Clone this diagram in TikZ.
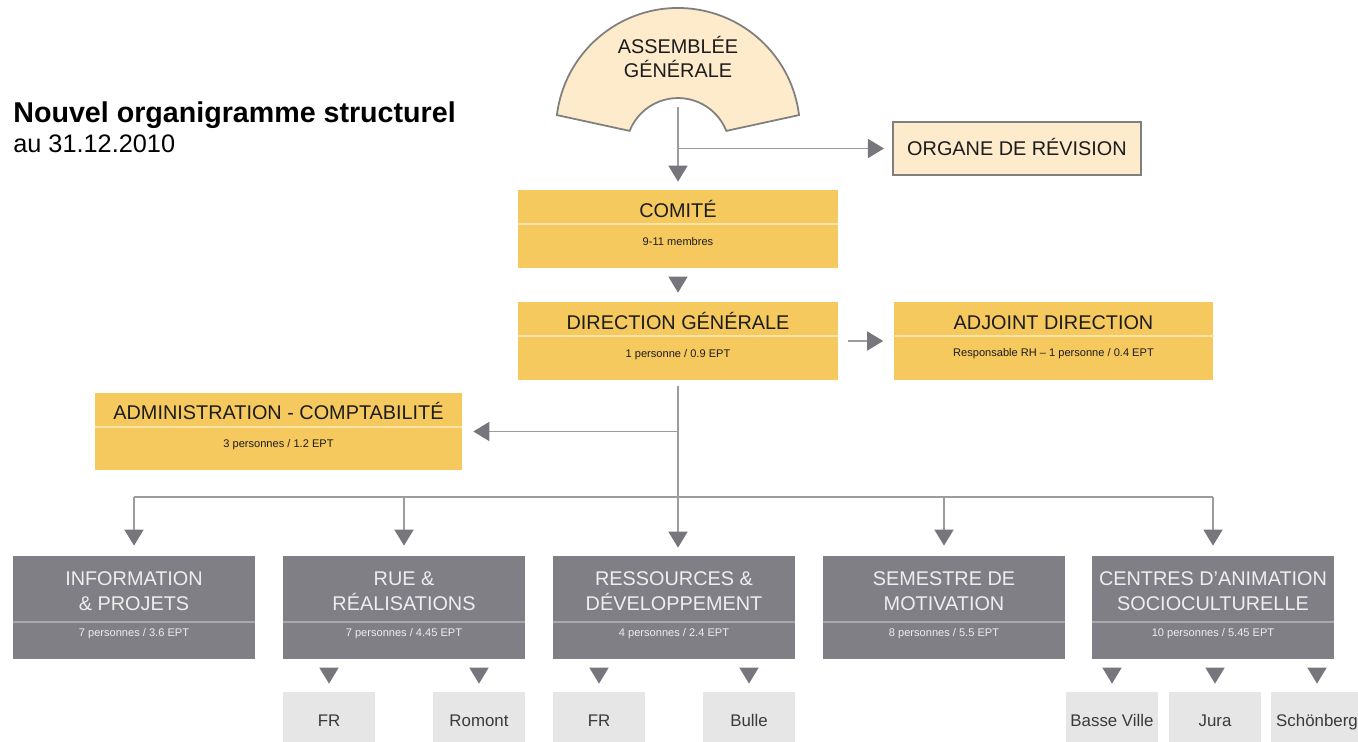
\documentclass[tikz,border=0pt]{standalone}
\usepackage{fontspec}
\setmainfont{Liberation Sans}
\usetikzlibrary{arrows.meta}

\definecolor{BoxYellow}{HTML}{F6C95F}
\definecolor{SepYellow}{HTML}{FBE4A8}
\definecolor{BoxGray}{HTML}{807F85}
\definecolor{SepGray}{HTML}{A9A9AC}
\definecolor{SiteGray}{HTML}{E6E6E6}
\definecolor{Cream}{HTML}{FDEBCC}
\definecolor{EdgeGray}{HTML}{7F7F7F}
\definecolor{LineGray}{HTML}{9C9C9C}
\definecolor{TipGray}{HTML}{76767C}
\definecolor{DarkText}{HTML}{1C1C1C}
\definecolor{LightText}{HTML}{EEEEEE}
\definecolor{SiteText}{HTML}{3A3A3A}

\tikzstyle{Link}=[draw=LineGray, line width=0.9pt]
\tikzstyle{LinkArrow}=[Link, -{Triangle[width=0.38cm, length=0.32cm, color=TipGray]}, shorten >=0.18cm]
\tikzstyle{TipOnly}=[draw=TipGray, line width=0.9pt, -{Triangle[width=0.38cm, length=0.32cm]}, shorten <=0.18cm, shorten >=0.16cm]
\tikzstyle{Assembly}=[fill=Cream, draw=EdgeGray, line width=1pt]
\tikzstyle{RevisionBox}=[rectangle, fill=Cream, draw=EdgeGray, line width=1.2pt, minimum width=4.96cm, minimum height=1.06cm, inner sep=0pt, font=\fontsize{11.3}{14.2}\selectfont, text=DarkText, text height=8.1pt, text depth=0pt]
\tikzstyle{YellowBox}=[rectangle, fill=BoxYellow, minimum width=6.4cm, minimum height=1.56cm, inner sep=0pt]
\tikzstyle{GrayBox}=[rectangle, fill=BoxGray, minimum width=4.84cm, minimum height=2.06cm, inner sep=0pt]
\tikzstyle{SiteBox}=[rectangle, fill=SiteGray, minimum width=1.84cm, minimum height=1.12cm, inner sep=0pt, text=SiteText, font=\fontsize{9.6}{11}\selectfont, text height=6.9pt, text depth=0pt]
\tikzstyle{HeadText}=[anchor=base, inner sep=0pt, align=center, font=\fontsize{11.3}{14.2}\selectfont, text=DarkText]
\tikzstyle{GrayHead}=[HeadText, text=LightText]
\tikzstyle{SubText}=[anchor=base, inner sep=0pt, font=\fontsize{6.3}{7.5}\selectfont, text=DarkText]
\tikzstyle{GraySub}=[SubText, text=LightText]
\tikzstyle{YellowSep}=[draw=SepYellow, line width=1.2pt]
\tikzstyle{GraySep}=[draw=SepGray, line width=1.2pt]

\begin{document}
\begin{tikzpicture}[x=0.02cm, y=0.02cm]
\useasboundingbox (0,0) rectangle (1358,-742);

% title
\node[anchor=base west, inner sep=0pt, font=\fontsize{16.3}{19}\selectfont\bfseries](Title) at (13,-123) {Nouvel organigramme structurel};
\node[anchor=base west, inner sep=0pt, font=\fontsize{14.4}{17}\selectfont](Date) at (13,-153) {au 31.12.2010};

% assemblee generale
\draw[Assembly] (556.9,-115.1) arc[start angle=173, end angle=7, radius=2.44cm]
  -- (726.3,-130.9) arc[start angle=21.6, end angle=158.4, radius=1.04cm] -- cycle;
\node[HeadText](AG) at (678,-78) {ASSEMBLÉE\\GÉNÉRALE};
\coordinate (AGb) at (678,-107);

\node[RevisionBox](ORG) at (1017,-148.5) {ORGANE DE RÉVISION};

% comite / direction
\node[YellowBox](COM) at (678,-229) {};
\draw[YellowSep] ([yshift=-0.68cm]COM.north west) -- ([yshift=-0.68cm]COM.north east);
\node[HeadText](COMtitle) at ([yshift=-0.56cm]COM.north) {COMITÉ};
\node[SubText](COMsub) at ([yshift=-1.12cm]COM.north) {9-11 membres};

\node[YellowBox](DIR) at (678,-341) {};
\draw[YellowSep] ([yshift=-0.68cm]DIR.north west) -- ([yshift=-0.68cm]DIR.north east);
\node[HeadText](DIRtitle) at ([yshift=-0.56cm]DIR.north) {DIRECTION GÉNÉRALE};
\node[SubText](DIRsub) at ([yshift=-1.11cm]DIR.north) {1 personne / 0.9 EPT};

\node[YellowBox](ADJ) at (1053.5,-341) {};
\draw[YellowSep] ([yshift=-0.68cm]ADJ.north west) -- ([yshift=-0.68cm]ADJ.north east);
\node[HeadText](ADJtitle) at ([yshift=-0.55cm]ADJ.north) {ADJOINT DIRECTION};
\node[SubText](ADJsub) at ([yshift=-1.1cm]ADJ.north) {Responsable RH -- 1 personne / 0.4 EPT};

\node[YellowBox, minimum width=7.34cm](ADM) at (278.5,-431.5) {};
\draw[YellowSep] ([yshift=-0.7cm]ADM.north west) -- ([yshift=-0.7cm]ADM.north east);
\node[HeadText](ADMtitle) at ([yshift=-0.54cm]ADM.north) {ADMINISTRATION - COMPTABILITÉ};
\node[SubText](ADMsub) at ([yshift=-1.1cm]ADM.north) {3 personnes / 1.2 EPT};

% secteurs
\node[GrayBox](INF) at (134,-607.5) {};
\node[GrayBox](RUE) at (404,-607.5) {};
\node[GrayBox](RES) at (674,-607.5) {};
\node[GrayBox](SEM) at (944,-607.5) {};
\node[GrayBox](CEN) at (1213,-607.5) {};
\foreach \b in {INF,RUE,RES,SEM,CEN}
  \draw[GraySep] ([yshift=-1.32cm]\b.north west) -- ([yshift=-1.32cm]\b.north east);
\node[GrayHead](INFtitle) at ([yshift=-1.1cm]INF.north) {INFORMATION\\\& PROJETS};
\node[GraySub](INFsub) at ([yshift=-1.62cm]INF.north) {7 personnes / 3.6 EPT};
\node[GrayHead](RUEtitle) at ([yshift=-1.1cm]RUE.north) {RUE \&\\RÉALISATIONS};
\node[GraySub](RUEsub) at ([yshift=-1.62cm]RUE.north) {7 personnes / 4.45 EPT};
\node[GrayHead](REStitle) at ([yshift=-1.1cm]RES.north) {RESSOURCES \&\\DÉVELOPPEMENT};
\node[GraySub](RESsub) at ([yshift=-1.62cm]RES.north) {4 personnes / 2.4 EPT};
\node[GrayHead](SEMtitle) at ([yshift=-1.1cm]SEM.north) {SEMESTRE DE\\MOTIVATION};
\node[GraySub](SEMsub) at ([yshift=-1.62cm]SEM.north) {8 personnes / 5.5 EPT};
\node[GrayHead](CENtitle) at ([yshift=-1.1cm]CEN.north) {CENTRES D'ANIMATION\\SOCIOCULTURELLE};
\node[GraySub](CENsub) at ([yshift=-1.62cm]CEN.north) {10 personnes / 5.45 EPT};

% sites
\node[SiteBox](FRa) at (329,-720) {FR};
\node[SiteBox](ROM) at (479,-720) {Romont};
\node[SiteBox](FRb) at (599,-720) {FR};
\node[SiteBox](BUL) at (749,-720) {Bulle};
\node[SiteBox](BAS) at (1112,-720) {Basse Ville};
\node[SiteBox](JUR) at (1215,-720) {Jura};
\node[SiteBox](SCH) at (1317,-720) {Schönberg};

% liens
\draw[LinkArrow, shorten >=0.16cm] (AGb) -- (COM);
\draw[LinkArrow, shorten >=0.16cm] (AGb |- ORG) -- (ORG);
\draw[TipOnly, shorten <=0.18cm, shorten >=0.18cm] (COM) -- (DIR);
\draw[LinkArrow, shorten <=0.2cm, shorten >=0.2cm] (DIR) -- (ADJ);
\draw[LinkArrow, shorten <=0.12cm, shorten >=0.16cm] (DIR) -- (DIR |- RES.north);
\draw[LinkArrow, shorten >=0.22cm] (DIR |- ADM) -- (ADM);
\coordinate (Fork) at (678,-497);
\draw[Link] (Fork -| INF) -- (Fork -| CEN);
\foreach \b in {INF,RUE,SEM,CEN}
  \draw[LinkArrow, shorten >=0.2cm] (Fork -| \b) -- (\b);
\draw[TipOnly] (RUE.south -| FRa) -- (FRa);
\draw[TipOnly] (RUE.south -| ROM) -- (ROM);
\draw[TipOnly] (RES.south -| FRb) -- (FRb);
\draw[TipOnly] (RES.south -| BUL) -- (BUL);
\draw[TipOnly] (CEN.south -| BAS) -- (BAS);
\draw[TipOnly] (CEN.south -| JUR) -- (JUR);
\draw[TipOnly] (CEN.south -| SCH) -- (SCH);
\end{tikzpicture}
\end{document}
